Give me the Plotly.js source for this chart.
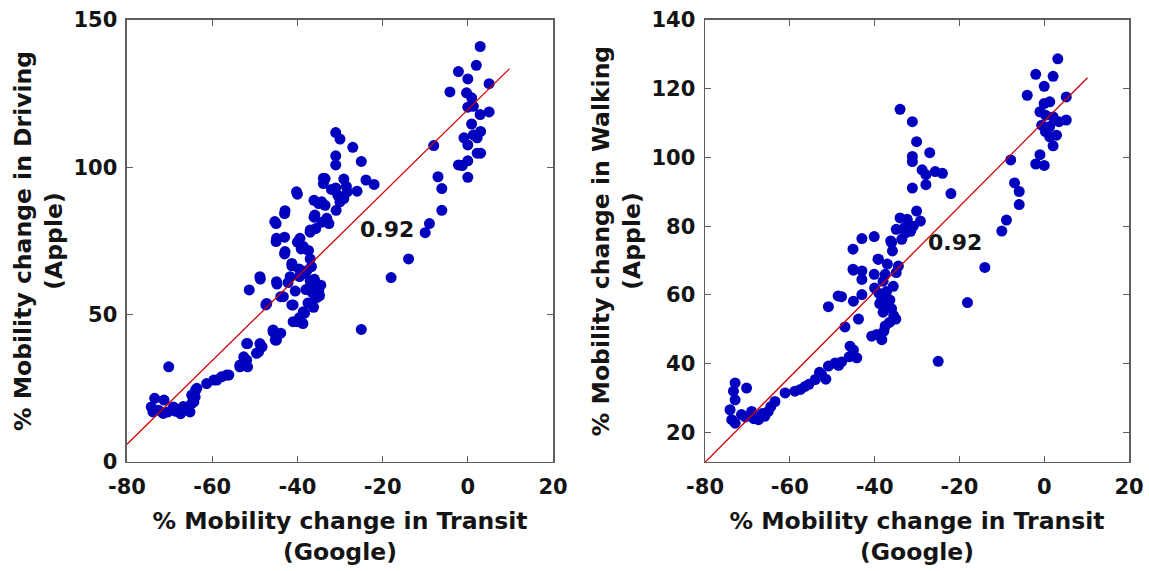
<!DOCTYPE html>
<html>
<head>
<meta charset="utf-8">
<script src="https://cdn.plot.ly/plotly-3.0.1.min.js"></script>
<style>
  html, body { margin: 0; padding: 0; background: #fff; }
  #chart { width: 1149px; height: 571px; }
</style>
</head>
<body>
<div id="chart"></div>
<script>
// Google transit change vs Apple driving change (%)
const transitDriving = [
  -74.3,-73.9,-73.5,-72.6,-71.3,-71.5,-70.4,-70.2,-69.1,-68.5,-67.4,-67.4,-66.8,-65.7,-65.2,-64.8,-64.3,-64.8,-64.0,-63.9,-63.6,
  -61.3,-59.6,-58.9,-57.8,-56.6,-56.1,-53.5,-53.5,-51.7,-52.6,-51.9,-49.6,-49.1,-48.3,-51.7,-51.9,-48.8,-45.2,-44.9,-45.7,-43.9,-45.7,
  -47.4,-47.2,-43.9,-43.3,-41.3,-41.0,-40.0,-41.0,-38.7,-38.3,-38.6,-35.7,-35.1,-36.5,-37.5,-36.2,-39.5,-51.3,-48.7,-48.8,-44.8,-44.9,
  -42.2,-41.7,-39.5,-36.1,-38.0,-40.5,-37.0,-38.5,-41.3,-41.3,-39.6,-37.8,-36.7,-37.0,-43.0,-42.9,-39.1,-38.6,-37.4,-40.0,-39.4,-45.0,
  -43.0,-44.9,-37.0,-37.0,-35.7,-34.3,-32.6,-45.0,-45.3,-43.0,-42.9,-36.1,-35.9,-33.1,-30.9,-33.5,-35.0,-36.1,-34.3,-30.0,-29.1,-40.0,
  -40.2,-28.3,-26.0,-33.5,-33.9,-33.9,-29.1,-31.0,-23.9,-22.0,-25.0,-31.0,-31.0,-27.0,-30.0,-31.0,-32.0,-30.5,-28.5,
  -35.0,-34.5,-36.0,-34.8,
  -25.0,-18.0,-13.9,-10.0,-9.0,-6.1,-6.1,-7.0,-8.0,0.0,-2.2,-1.3,0.0,2.2,3.0,0.0,-0.9,2.2,1.3,3.0,0.9,2.9,5.0,0.0,1.3,0.9,-0.3,-4.2,
  5.0,0.0,-2.2,2.0,2.9
];
const drivingApple = [
  18.7,17.0,21.6,17.6,21.0,16.5,17.0,32.3,18.7,17.2,17.6,16.4,18.8,18.7,17.0,19.9,20.4,22.7,22.1,24.4,25.0,
  26.6,27.8,27.8,28.9,29.5,29.5,32.9,32.3,32.3,35.7,34.6,36.9,37.4,39.1,40.2,40.2,40.2,41.4,41.4,44.2,43.7,44.8,
  53.3,53.8,56.1,56.1,53.3,53.3,47.6,47.6,47.0,50.5,51.0,55.6,56.1,57.5,54.0,52.5,49.0,58.4,62.1,62.9,60.4,61.2,
  60.9,62.9,62.9,59.8,58.5,58.0,61.5,64.0,66.6,67.4,65.5,64.9,66.3,68.9,70.6,71.4,72.3,73.1,71.8,74.6,75.9,74.8,
  76.3,75.9,78.0,78.7,79.2,81.4,80.9,80.9,81.6,84.3,85.3,83.1,83.8,82.7,85.4,87.1,87.7,88.8,88.3,88.3,89.4,90.9,
  91.7,91.7,91.9,96.2,94.5,96.3,96.0,93.0,95.7,94.2,102.0,100.8,103.9,106.8,109.6,111.8,92.5,90.5,93.5,
  58.0,60.0,62.0,56.5,
  45.0,62.6,68.9,77.8,80.9,85.4,92.8,96.8,107.4,96.6,100.8,100.6,102.2,104.8,104.8,107.6,110.0,110.0,111.0,112.2,114.7,117.9,118.8,120.4,120.7,123.6,125.3,125.6,
  128.4,130.0,132.5,134.6,141.0
];

// Google transit change vs Apple walking change (%)
const transitWalking = [
  -74.1,-73.7,-72.9,-73.3,-72.9,-72.9,-71.4,-70.2,-70.5,-69.0,-68.5,-67.4,-66.5,-65.9,-65.1,-64.5,-63.5,-61.1,-58.8,-57.5,-56.4,
  -55.5,-54.0,-53.0,-52.5,-51.5,-50.9,-49.3,-48.5,-47.8,-46.0,-44.2,-45.8,-45.0,-47.0,-50.9,-48.6,-47.8,-45.0,-43.8,-43.0,-40.7,
  -38.3,-39.5,-38.3,-37.0,-36.0,-35.5,-36.5,-37.5,-35.0,-38.0,-39.0,-40.0,-38.0,-43.0,-43.0,-45.0,-45.1,-37.5,-34.9,-40.1,-39.2,
  -39.1,-34.4,-37.0,-35.8,-36.0,-36.2,-45.1,-43.0,-40.1,-33.6,-32.7,-34.9,-30.9,-29.2,-32.3,-34.0,-30.1,-33.0,-31.5,
  -31.1,-27.9,-22.0,-27.9,-28.8,-25.7,-24.0,-31.1,-31.1,-27.0,-30.1,-31.1,-34.0,
  -37.2,-36.4,-38.8,-35.6,-37.8,
  -25.0,-18.1,-14.0,-10.0,-8.9,-5.9,-5.9,-7.0,-7.9,0.0,-2.0,-1.0,2.1,2.9,1.3,0.3,1.3,-0.6,3.5,5.2,2.1,0.3,-1.0,0.0,1.3,5.2,-4.0,
  0.0,2.1,-2.0,3.2
];
const walkingApple = [
  26.6,23.7,22.7,32.0,34.4,29.5,25.2,32.9,24.5,26.1,24.0,23.7,25.5,24.7,26.1,27.5,29.0,31.5,32.0,32.5,33.4,
  34.0,35.4,37.5,36.8,35.5,39.3,40.2,39.5,40.5,42.0,41.7,45.1,44.0,50.7,56.6,59.7,59.5,58.2,53.0,60.1,48.0,
  47.0,48.5,58.7,57.0,56.0,54.0,52.0,51.0,53.0,55.0,60.5,62.0,64.0,64.5,67.0,67.2,67.5,66.0,66.5,66.0,70.4,
  70.4,68.4,69.0,72.8,75.2,75.7,73.3,76.4,77.0,76.2,78.1,79.1,80.0,81.5,82.0,82.4,84.4,79.5,78.5,
  91.1,92.1,89.5,95.0,96.4,95.9,95.4,98.8,100.3,101.4,104.6,110.4,114.0,
  61.0,58.5,57.5,62.5,49.5,
  40.7,57.8,68.0,78.6,81.8,86.3,90.1,92.6,99.3,97.7,98.1,100.8,103.4,106.5,106.0,107.5,109.0,109.4,110.4,110.9,111.8,112.3,113.3,115.7,116.2,117.6,118.1,
  120.7,123.6,124.2,128.7
];

// Least-squares fit lines (end points) and correlation labels
const fitDrivingX = [-80, 9.8];
const fitDrivingY = [6.0, 133.5];
const fitWalkingX = [-80, 10.2];
const fitWalkingY = [11.3, 123.2];
const corrDriving = {x: -18.9, y: 78.8, text: '0.92'};
const corrWalking = {x: -21.1, y: 75.4, text: '0.92'};

const xTicks = [-80, -60, -40, -20, 0, 20];
const drivingTicks = [0, 50, 100, 150];
const walkingTicks = [20, 40, 60, 80, 100, 120, 140];

const FONT = 'DejaVu Sans, Verdana, sans-serif';
const DOT = 'rgb(0,0,190)';
const FRAME = '#5e5e5e';
const INK = '#141414';

const dots = (x, y, xa, ya) => ({
  x, y, xaxis: xa, yaxis: ya, type: 'scatter', mode: 'markers',
  marker: {color: DOT, size: 11, line: {width: 0}}, hoverinfo: 'x+y', showlegend: false
});
const fit = (x, y, xa, ya) => ({
  x, y, xaxis: xa, yaxis: ya, type: 'scatter', mode: 'lines',
  line: {color: '#d00000', width: 1.3}, hoverinfo: 'skip', showlegend: false
});

const boldFont = (size) => ({family: FONT, size, color: INK, weight: 'bold'});

const axisBase = {
  showline: true, mirror: 'ticks', linecolor: FRAME, linewidth: 1.5,
  ticks: 'inside', ticklen: 6, tickwidth: 1, tickcolor: FRAME,
  showgrid: false, zeroline: false, fixedrange: true,
  tickfont: boldFont(21)
};
const xAxis = (domain, anchor) => Object.assign({}, axisBase, {
  domain, anchor, range: [-80, 20], tickvals: xTicks, ticktext: xTicks.map(String),
  ticklabelstandoff: 5,
  title: {text: '% Mobility change in Transit<br>(Google)', font: boldFont(23.5), standoff: 15}
});
const yAxis = (range, ticks, label, anchor) => Object.assign({}, axisBase, {
  domain: [0.1909, 0.965], anchor, range, tickvals: ticks, ticktext: ticks.map(String),
  ticklabelstandoff: 4,
  title: {text: '% Mobility change in ' + label + '<br>(Apple)', font: boldFont(23.5), standoff: 4}
});

const corrNote = (c, xref, yref) => ({
  x: c.x, y: c.y, xref, yref, text: c.text, showarrow: false, font: boldFont(22)
});

const data = [
  dots(transitDriving, drivingApple, 'x', 'y'),
  fit(fitDrivingX, fitDrivingY, 'x', 'y'),
  dots(transitWalking, walkingApple, 'x2', 'y2'),
  fit(fitWalkingX, fitWalkingY, 'x2', 'y2')
];

const layout = {
  width: 1149, height: 571,
  margin: {l: 0, r: 0, t: 0, b: 0},
  paper_bgcolor: '#fff', plot_bgcolor: '#fff',
  font: {family: FONT, color: INK},
  xaxis: xAxis([0.1105, 0.4813], 'y'),
  yaxis: yAxis([0, 150], drivingTicks, 'Driving', 'x'),
  xaxis2: xAxis([0.6136, 0.9826], 'y2'),
  yaxis2: yAxis([11.4, 140], walkingTicks, 'Walking', 'x2'),
  annotations: [corrNote(corrDriving, 'x', 'y'), corrNote(corrWalking, 'x2', 'y2')],
  showlegend: false
};

Plotly.newPlot('chart', data, layout, {displayModeBar: false, staticPlot: true});
</script>
</body>
</html>
